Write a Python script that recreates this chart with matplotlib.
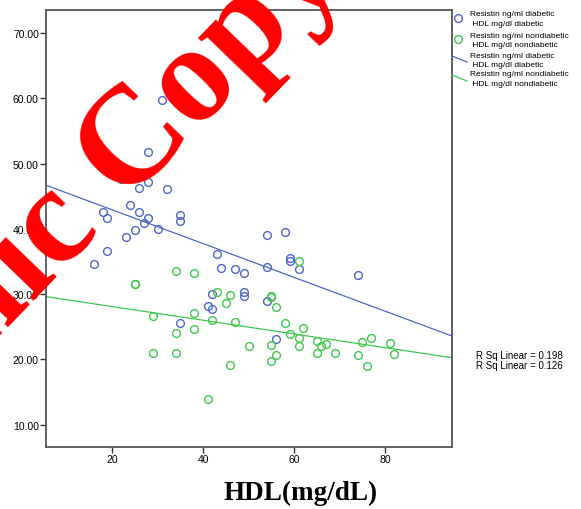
import matplotlib.pyplot as plt
import numpy as np
from matplotlib.lines import Line2D

plt.rcParams['font.family'] = ['Liberation Sans', 'DejaVu Sans']

# HDL (x) vs Resistin (y)
hdl_diab = [31, 28, 22, 26, 28, 32, 24, 18, 26, 19, 28, 27, 35, 35, 25, 30, 23, 19, 16,
            43, 44, 47, 49, 54, 58, 54, 59, 59, 61, 74, 42, 49, 49, 54, 41, 42, 35, 56]
res_diab = [59.7, 51.7, 47.6, 46.3, 47.1, 46.1, 43.7, 42.6, 42.6, 41.6, 41.7, 40.95, 42.06, 41.18,
            39.8, 39.9, 38.8, 36.6, 34.6, 36.1, 34.07, 33.9, 33.3, 39.1, 39.57, 34.1, 35.6, 35.03,
            33.9, 32.9, 30.0, 30.3, 29.7, 29.0, 28.1, 27.7, 25.6, 23.1]

hdl_nond = [34, 38, 25, 25, 29, 38, 34, 38, 29, 34, 43, 46, 45, 42, 47, 50, 46, 41, 61, 55, 55,
            56, 58, 62, 59, 61, 61, 65, 66, 67, 55, 56, 55, 65, 69, 74, 76, 75, 77, 81, 82]
res_nond = [33.6, 33.3, 31.6, 31.6, 26.7, 27.1, 24.0, 24.6, 20.9, 20.9, 30.3, 29.9, 28.6, 26.0,
            25.7, 22.1, 19.1, 13.9, 35.1, 29.6, 29.7, 28.0, 25.6, 24.8, 23.9, 23.2, 22.1, 22.8,
            22.1, 22.3, 22.2, 20.6, 19.7, 21.0, 20.9, 20.6, 19.05, 22.6, 23.3, 22.5, 20.8]

# linear fit lines (intercept, slope) and R squared as shown
fit_diab = (48.1, -0.259)
fit_nond = (30.19, -0.105)
r2 = [0.198, 0.126]

blue = '#4f66c6'
green = '#3fc84c'

fig = plt.figure(figsize=(5.81, 5.10), dpi=100)
ax = fig.add_axes([0.080, 0.122, 0.698, 0.856])

ax.plot(hdl_diab, res_diab, 'o', mfc='none', mec=blue, ms=5.6, mew=1)
ax.plot(hdl_nond, res_nond, 'o', mfc='none', mec=green, ms=5.6, mew=1)

ax.set_xlim(5.6, 94.7)
ax.set_ylim(6.6, 73.5)
xs = np.array(ax.get_xlim())
ax.plot(xs, fit_diab[0] + fit_diab[1] * xs, color=blue, lw=0.9)
ax.plot(xs, fit_nond[0] + fit_nond[1] * xs, color=green, lw=0.9)

ax.set_xticks([20, 40, 60, 80])
ax.set_yticks([10, 20, 30, 40, 50, 60, 70])
ax.set_yticklabels(['%.2f' % v for v in [10, 20, 30, 40, 50, 60, 70]])
ax.tick_params(labelsize=7.5, length=4, width=1, color='#333333', pad=1.5)
for s in ax.spines.values():
    s.set_color('#555555')
    s.set_linewidth(1.3)

# legend drawn by hand, outside the plot
lab = [('Resistin ng/ml diabetic', ' HDL mg/dl diabetic'),
       ('Resistin ng/ml nondiabetic', ' HDL mg/dl nondiabetic'),
       ('Resistin ng/ml diabetic', ' HDL mg/dl diabetic'),
       ('Resistin ng/ml nondiabetic', ' HDL mg/dl nondiabetic')]
W, H = 581.0, 510.0
rows = [15, 36, 56, 75]
for i, (a, b) in enumerate(lab):
    y0 = rows[i]
    fig.text(470 / W, 1 - y0 / H, a, fontsize=6, va='center', ha='left')
    fig.text(470 / W, 1 - (y0 + 9.5) / H, b, fontsize=6, va='center', ha='left')
fig.add_artist(Line2D([458 / W], [1 - 19 / H], marker='o', mfc='none', mec=blue, ms=5.6, mew=1))
fig.add_artist(Line2D([458 / W], [1 - 40 / H], marker='o', mfc='none', mec=green, ms=5.6, mew=1))
fig.add_artist(Line2D([452 / W, 467 / W], [1 - 57 / H, 1 - 63 / H], color=blue, lw=0.9))
fig.add_artist(Line2D([452 / W, 467 / W], [1 - 76 / H, 1 - 82 / H], color=green, lw=0.9))

fig.text(476 / W, 1 - 356 / H, 'R Sq Linear = %.3f' % r2[0], fontsize=7, va='center')
fig.text(476 / W, 1 - 366 / H, 'R Sq Linear = %.3f' % r2[1], fontsize=7, va='center')

fig.text(301 / W, 1 - 493 / H, 'HDL(mg/dL)', fontsize=19.5, fontweight='bold',
         family='Liberation Serif', ha='center', va='center')

# red watermark
fig.text(-22 / W, 1 - 358 / H, 'nic Copy', fontsize=100, fontweight='bold', family='Liberation Serif',
         color='red', rotation=46, rotation_mode='anchor', ha='left', va='baseline', zorder=10)

fig.savefig('out.png', dpi=100)
